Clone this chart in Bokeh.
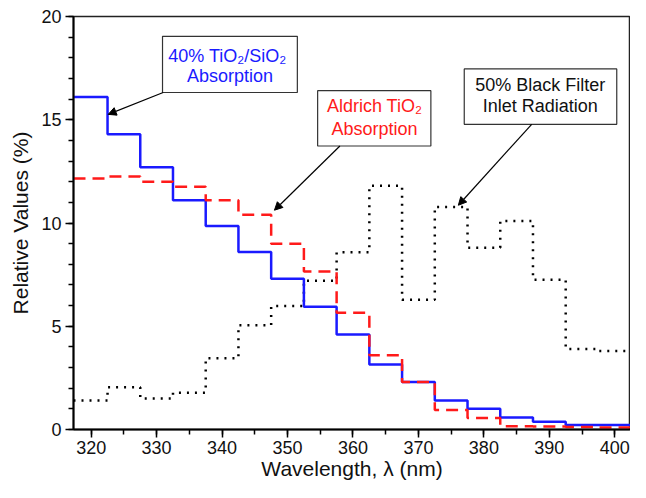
from bokeh.plotting import figure
from bokeh.models import FixedTicker, BoxAnnotation, Label, Arrow, NormalHead, Range1d
from bokeh.embed import file_html
from bokeh.resources import INLINE

# ---- data (bin centres in nm, values in %) ----
wavelength = [320, 325, 330, 335, 340, 345, 350, 355, 360, 365, 370, 375, 380, 385, 390, 395, 400]
tio2_sio2 = [16.1, 14.3, 12.7, 11.1, 9.85, 8.6, 7.3, 5.95, 4.6, 3.15, 2.3, 1.4, 1.0, 0.58, 0.38, 0.22, 0.22]
aldrich_tio2 = [12.15, 12.25, 12.0, 11.75, 11.1, 10.4, 9.0, 7.65, 5.65, 3.6, 2.3, 0.95, 0.56, 0.16, 0.14, 0.12, 0.10]
black_filter = [1.4, 2.05, 1.5, 1.78, 3.45, 5.05, 5.98, 7.2, 8.58, 11.8, 6.28, 10.78, 8.8, 10.1, 7.25, 3.9, 3.8]

x_ticks = [320, 330, 340, 350, 360, 370, 380, 390, 400]
y_ticks = [0, 5, 10, 15, 20]

X_START, X_END = 317.3, 402.4
FONT = "Liberation Sans"


def step_edges(centers, values):
    mids = [(a + b) / 2 for a, b in zip(centers[:-1], centers[1:])]
    xs = [X_START] + mids + [X_END]
    ys = list(values) + [values[-1]]
    return xs, ys


p = figure(width=630, height=482,
           x_range=Range1d(X_START, X_END), y_range=Range1d(0, 20),
           output_backend="svg", toolbar_location=None,
           min_border_left=73, min_border_right=0,
           min_border_top=16, min_border_bottom=40)

p.grid.visible = False
p.outline_line_color = "#222222"
p.outline_line_width = 1.5
p.background_fill_color = "white"
p.border_fill_color = "white"

# axes
p.xaxis.ticker = FixedTicker(ticks=x_ticks, minor_ticks=list(range(315, 406, 5)))
p.yaxis.ticker = FixedTicker(ticks=y_ticks, minor_ticks=list(range(0, 21)))
for ax in (p.xaxis, p.yaxis):
    ax.axis_line_color = "black"
    ax.axis_line_width = 2
    ax.major_tick_line_color = "black"
    ax.minor_tick_line_color = "black"
    ax.major_tick_line_width = 1.5
    ax.minor_tick_line_width = 1.5
    ax.major_tick_out = 8
    ax.major_tick_in = 0
    ax.minor_tick_out = 5
    ax.minor_tick_in = 0
    ax.major_label_text_font = FONT
    ax.major_label_text_font_size = "18px"
    ax.major_label_text_color = "#111111"
    ax.axis_label_text_font = FONT
    ax.axis_label_text_font_size = "21px"
    ax.axis_label_text_font_style = "normal"
    ax.axis_label_text_color = "#111111"
p.xaxis.axis_label = "Wavelength, λ (nm)"
p.yaxis.axis_label = "Relative Values (%)"
p.xaxis.major_label_standoff = 3
p.yaxis.major_label_standoff = 4
p.xaxis.axis_label_standoff = 0
p.yaxis.axis_label_standoff = 6

# series
xs, ys = step_edges(wavelength, black_filter)
p.step(xs, ys, mode="after", line_color="black", line_width=2.5, line_dash="2 6")
xs, ys = step_edges(wavelength, tio2_sio2)
p.step(xs, ys, mode="after", line_color="#1a1aff", line_width=2.5)
xs, ys = step_edges(wavelength, aldrich_tio2)
p.step(xs, ys, mode="after", line_color="#ff1a1a", line_width=2.5, line_dash="12 7")

# annotation boxes (data coordinates)
boxes = [
    dict(left=330.9, right=351.5, bottom=16.32, top=19.04),
    dict(left=354.6, right=371.9, bottom=13.73, top=16.41),
    dict(left=377.0, right=400.3, bottom=14.78, top=17.46),
]
for b in boxes:
    p.add_layout(BoxAnnotation(fill_color="white", fill_alpha=1.0,
                               line_color="#333333", line_width=1.2, line_alpha=1.0, **b))

texts = [
    ("40%  TiO₂/SiO₂", 341.2, 18.09, "#1a1aff"),
    ("Absorption", 341.2, 17.13, "#1a1aff"),
    ("Aldrich TiO₂", 363.3, 15.69, "#ff1a1a"),
    ("Absorption", 363.3, 14.55, "#ff1a1a"),
    ("50% Black Filter", 388.6, 16.70, "#111111"),
    ("Inlet Radiation", 388.6, 15.69, "#111111"),
]
for t, x, y, c in texts:
    p.add_layout(Label(x=x, y=y, text=t, text_align="center", text_baseline="middle",
                       text_font=FONT, text_font_size="18px", text_color=c))

arrows = [
    (331.0, 16.32, 322.6, 15.26),
    (358.0, 13.73, 348.0, 10.62),
    (387.3, 14.78, 376.1, 10.86),
]
for x0, y0, x1, y1 in arrows:
    p.add_layout(Arrow(end=NormalHead(size=8, fill_color="black", line_color="black", line_width=1),
                       x_start=x0, y_start=y0, x_end=x1, y_end=y1,
                       line_color="black", line_width=1.2))

open("out.html", "w").write(file_html(p, INLINE))
